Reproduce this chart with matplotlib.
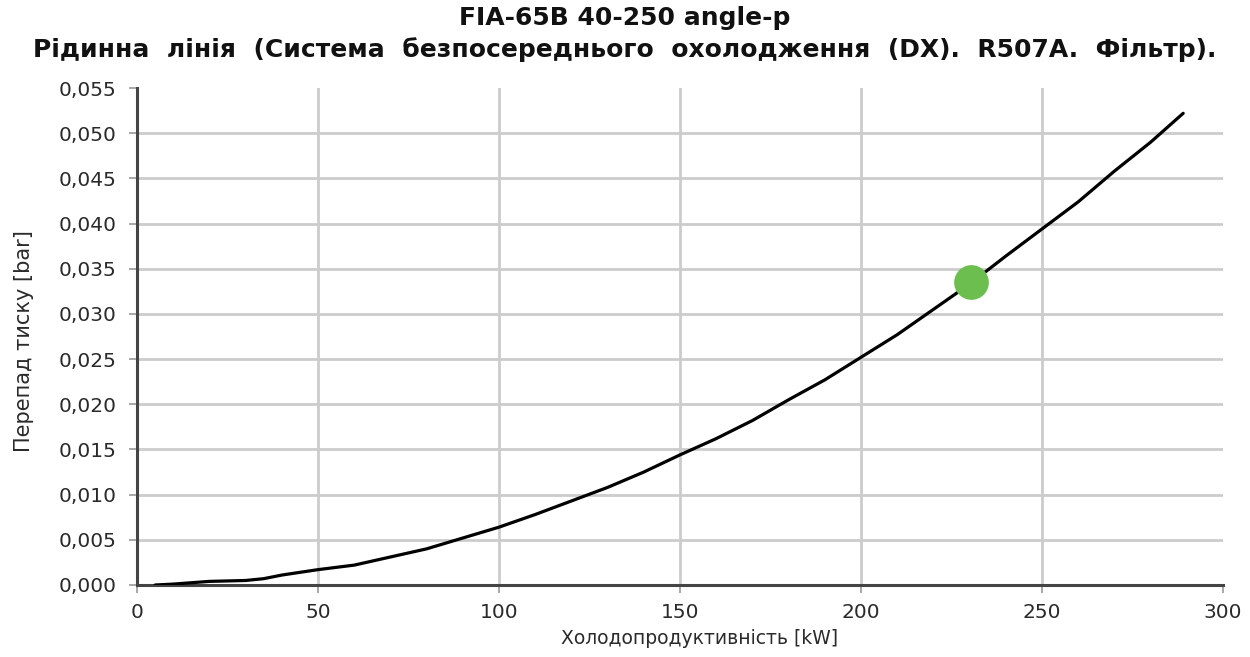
import matplotlib
matplotlib.use("Agg")
import matplotlib.pyplot as plt
from matplotlib.ticker import FuncFormatter, MultipleLocator

# Pressure drop vs. cooling capacity
capacity_kw = [5, 10, 20, 30, 35, 40, 50, 60, 70, 80, 90, 100, 110, 120, 130,
               140, 150, 160, 170, 180, 190, 200, 210, 220, 230, 240, 250, 260,
               270, 280, 289]
pressure_drop_bar = [0.0000, 0.0001, 0.0004, 0.0005, 0.0007, 0.0011, 0.0017,
                     0.0022, 0.0031, 0.0040, 0.0052, 0.0064, 0.0078, 0.0093,
                     0.0108, 0.0125, 0.0144, 0.0162, 0.0182, 0.0205, 0.0227,
                     0.0252, 0.0277, 0.0305, 0.0333, 0.0364, 0.0394, 0.0424,
                     0.0458, 0.0490, 0.0522]

# Operating point
op_capacity = 230.5
op_drop = 0.0335

title_line1 = "FIA-65B 40-250 angle-p"
title_line2 = "Рідинна  лінія  (Система  безпосереднього  охолодження  (DX).  R507A.  Фільтр)."
x_label = "Холодопродуктивність [kW]"
y_label = "Перепад тиску [bar]"

plt.rcParams['font.family'] = ['DejaVu Sans']

fig = plt.figure(figsize=(12.5, 6.57), dpi=100)
ax = fig.add_axes([137 / 1250, 1 - 585 / 657, (1223 - 137) / 1250, (585 - 88) / 657])

ax.set_xlim(0, 300)
ax.set_ylim(0, 0.055)
ax.xaxis.set_major_locator(MultipleLocator(50))
ax.yaxis.set_major_locator(MultipleLocator(0.005))
ax.yaxis.set_major_formatter(FuncFormatter(lambda v, p: f"{v:.3f}".replace(".", ",")))

grid_color = "#cccccc"
for gx in [50, 100, 150, 200, 250]:
    ax.axvline(gx, color=grid_color, lw=2, zorder=0)
for gy in [0.005 * i for i in range(1, 11)]:
    ax.axhline(gy, color=grid_color, lw=2, zorder=0)

ax.plot(capacity_kw, pressure_drop_bar, color="black", lw=2.3, zorder=3,
        solid_capstyle="round")
ax.plot([op_capacity], [op_drop], "o", color="#6cbf4e", markersize=25,
        markeredgewidth=0, zorder=4)

for side in ["top", "right"]:
    ax.spines[side].set_visible(False)
for side in ["left", "bottom"]:
    ax.spines[side].set_color("#444444")
    ax.spines[side].set_linewidth(2.2)

ax.tick_params(axis="both", direction="out", length=6, width=1.2,
               color="#999999", labelcolor="#2a2a2a", labelsize=14.5)
ax.tick_params(axis="y", pad=9)
ax.tick_params(axis="x", pad=7)

ax.set_xlabel(x_label, fontsize=13.5, color="#2a2a2a")
ax.xaxis.set_label_coords((700 - 137) / 1086, -0.088)
ax.set_ylabel(y_label, fontsize=15, color="#2a2a2a")
ax.yaxis.set_label_coords((34 - 137) / 1086, 0.49)

fig.text(0.5, 1 - 18 / 657, title_line1, ha="center", va="center",
         fontsize=18, fontweight="bold", color="#111111")
fig.text(0.5, 1 - 50 / 657, title_line2, ha="center", va="center",
         fontsize=18, fontweight="bold", color="#111111")

fig.savefig("out.png", dpi=100)
